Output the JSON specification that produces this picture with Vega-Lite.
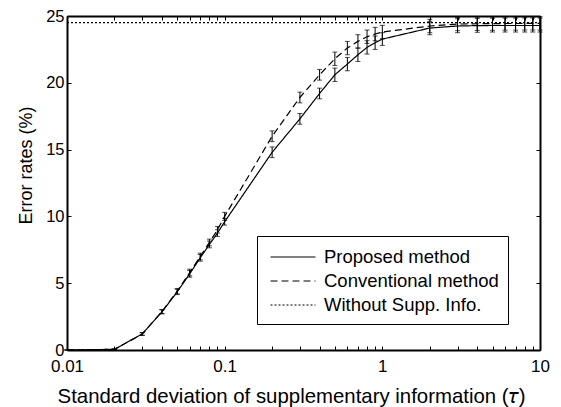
{
  "$schema": "https://vega.github.io/schema/vega-lite/v6.json",
  "width": 473,
  "height": 334,
  "autosize": {"type": "none"},
  "padding": {"left": 67, "top": 16, "right": 21, "bottom": 57},
  "background": "white",
  "config": {
    "view": {"stroke": null},
    "font": "Liberation Sans",
    "axis": {"domainColor": "black", "domainWidth": 2, "tickColor": "black", "tickWidth": 1, "labelColor": "black", "titleColor": "black", "labelFont": "Liberation Sans", "titleFont": "Liberation Sans", "labelFontSize": 17, "titleFontWeight": "normal", "grid": false},
    "legend": {"labelFont": "Liberation Sans", "labelFontSize": 18.5, "labelColor": "black"}
  },
  "datasets": {
    "curves": [
      {"tau": 0.01, "rate": 0, "lo": 0, "hi": 0, "method": "Proposed method"},
      {"tau": 0.02, "rate": 0.05, "lo": 0.02, "hi": 0.08, "method": "Proposed method"},
      {"tau": 0.03, "rate": 1.2, "lo": 1.1, "hi": 1.3, "method": "Proposed method"},
      {"tau": 0.04, "rate": 2.85, "lo": 2.7, "hi": 3.0, "method": "Proposed method"},
      {"tau": 0.05, "rate": 4.35, "lo": 4.15, "hi": 4.55, "method": "Proposed method"},
      {"tau": 0.06, "rate": 5.7, "lo": 5.45, "hi": 5.95, "method": "Proposed method"},
      {"tau": 0.07, "rate": 6.9, "lo": 6.65, "hi": 7.15, "method": "Proposed method"},
      {"tau": 0.08, "rate": 7.9, "lo": 7.65, "hi": 8.15, "method": "Proposed method"},
      {"tau": 0.09, "rate": 8.75, "lo": 8.5, "hi": 9.0, "method": "Proposed method"},
      {"tau": 0.1, "rate": 9.6, "lo": 9.35, "hi": 9.85, "method": "Proposed method"},
      {"tau": 0.2, "rate": 14.8, "lo": 14.4, "hi": 15.2, "method": "Proposed method"},
      {"tau": 0.3, "rate": 17.3, "lo": 16.9, "hi": 17.7, "method": "Proposed method"},
      {"tau": 0.4, "rate": 19.2, "lo": 18.8, "hi": 19.6, "method": "Proposed method"},
      {"tau": 0.5, "rate": 20.6, "lo": 20.1, "hi": 21.1, "method": "Proposed method"},
      {"tau": 0.6, "rate": 21.4, "lo": 20.9, "hi": 21.9, "method": "Proposed method"},
      {"tau": 0.7, "rate": 22.1, "lo": 21.6, "hi": 22.6, "method": "Proposed method"},
      {"tau": 0.8, "rate": 22.65, "lo": 22.15, "hi": 23.15, "method": "Proposed method"},
      {"tau": 0.9, "rate": 23.0, "lo": 22.5, "hi": 23.5, "method": "Proposed method"},
      {"tau": 1, "rate": 23.27, "lo": 22.8, "hi": 23.75, "method": "Proposed method"},
      {"tau": 2, "rate": 24.1, "lo": 23.6, "hi": 24.6, "method": "Proposed method"},
      {"tau": 3, "rate": 24.25, "lo": 23.75, "hi": 24.8, "method": "Proposed method"},
      {"tau": 4, "rate": 24.28, "lo": 23.78, "hi": 24.82, "method": "Proposed method"},
      {"tau": 5, "rate": 24.29, "lo": 23.8, "hi": 24.83, "method": "Proposed method"},
      {"tau": 6, "rate": 24.29, "lo": 23.8, "hi": 24.84, "method": "Proposed method"},
      {"tau": 7, "rate": 24.29, "lo": 23.8, "hi": 24.84, "method": "Proposed method"},
      {"tau": 8, "rate": 24.29, "lo": 23.8, "hi": 24.85, "method": "Proposed method"},
      {"tau": 9, "rate": 24.29, "lo": 23.8, "hi": 24.85, "method": "Proposed method"},
      {"tau": 10, "rate": 24.29, "lo": 23.8, "hi": 24.85, "method": "Proposed method"},
      {"tau": 0.01, "rate": 0, "lo": 0, "hi": 0, "method": "Conventional method"},
      {"tau": 0.02, "rate": 0.05, "lo": 0.02, "hi": 0.08, "method": "Conventional method"},
      {"tau": 0.03, "rate": 1.2, "lo": 1.1, "hi": 1.3, "method": "Conventional method"},
      {"tau": 0.04, "rate": 2.88, "lo": 2.73, "hi": 3.03, "method": "Conventional method"},
      {"tau": 0.05, "rate": 4.4, "lo": 4.2, "hi": 4.6, "method": "Conventional method"},
      {"tau": 0.06, "rate": 5.8, "lo": 5.55, "hi": 6.05, "method": "Conventional method"},
      {"tau": 0.07, "rate": 7.0, "lo": 6.75, "hi": 7.25, "method": "Conventional method"},
      {"tau": 0.08, "rate": 8.05, "lo": 7.8, "hi": 8.3, "method": "Conventional method"},
      {"tau": 0.09, "rate": 9.0, "lo": 8.75, "hi": 9.25, "method": "Conventional method"},
      {"tau": 0.1, "rate": 10.0, "lo": 9.7, "hi": 10.3, "method": "Conventional method"},
      {"tau": 0.2, "rate": 16.0, "lo": 15.6, "hi": 16.4, "method": "Conventional method"},
      {"tau": 0.3, "rate": 18.9, "lo": 18.5, "hi": 19.3, "method": "Conventional method"},
      {"tau": 0.4, "rate": 20.6, "lo": 20.2, "hi": 21.0, "method": "Conventional method"},
      {"tau": 0.5, "rate": 21.8, "lo": 21.3, "hi": 22.3, "method": "Conventional method"},
      {"tau": 0.6, "rate": 22.6, "lo": 22.1, "hi": 23.1, "method": "Conventional method"},
      {"tau": 0.7, "rate": 23.1, "lo": 22.6, "hi": 23.6, "method": "Conventional method"},
      {"tau": 0.8, "rate": 23.45, "lo": 22.95, "hi": 23.95, "method": "Conventional method"},
      {"tau": 0.9, "rate": 23.65, "lo": 23.15, "hi": 24.15, "method": "Conventional method"},
      {"tau": 1, "rate": 23.8, "lo": 23.3, "hi": 24.3, "method": "Conventional method"},
      {"tau": 2, "rate": 24.25, "lo": 23.75, "hi": 24.75, "method": "Conventional method"},
      {"tau": 3, "rate": 24.4, "lo": 23.9, "hi": 24.9, "method": "Conventional method"},
      {"tau": 4, "rate": 24.42, "lo": 23.92, "hi": 24.92, "method": "Conventional method"},
      {"tau": 5, "rate": 24.43, "lo": 23.93, "hi": 24.93, "method": "Conventional method"},
      {"tau": 6, "rate": 24.44, "lo": 23.94, "hi": 24.94, "method": "Conventional method"},
      {"tau": 7, "rate": 24.44, "lo": 23.94, "hi": 24.94, "method": "Conventional method"},
      {"tau": 8, "rate": 24.45, "lo": 23.95, "hi": 24.95, "method": "Conventional method"},
      {"tau": 9, "rate": 24.45, "lo": 23.95, "hi": 24.95, "method": "Conventional method"},
      {"tau": 10, "rate": 24.45, "lo": 23.95, "hi": 24.95, "method": "Conventional method"}
    ],
    "baseline": [
      {"tau": 0.01, "rate": 24.5, "method": "Without Supp.  Info."},
      {"tau": 10, "rate": 24.5, "method": "Without Supp.  Info."}
    ]
  },
  "resolve": {"axis": {"x": "independent", "y": "independent"}},
  "layer": [
    {
      "data": {"name": "baseline"},
      "mark": {"type": "line", "color": "black", "strokeWidth": 1.2},
      "encoding": {
        "x": {"field": "tau", "type": "quantitative", "scale": {"type": "log", "domain": [0.01, 10], "nice": false},
          "axis": {"orient": "bottom", "title": "Standard deviation of supplementary information (𝜏)", "titleFontSize": 20.4, "titleX": 224, "titleY": 52, "titleBaseline": "alphabetic", "values": [0.01,0.02,0.03,0.04,0.05,0.06,0.07,0.08,0.09,0.1,0.2,0.3,0.4,0.5,0.6,0.7,0.8,0.9,1,2,3,4,5,6,7,8,9,10],
            "labelExpr": "datum.value == 0.01 ? '0.01' : datum.value == 0.1 ? '0.1' : datum.value == 1 ? '1' : datum.value == 10 ? '10' : ''",
            "tickSize": -4, "labelPadding": 12, "labelFlush": false, "labelOverlap": false}},
        "y": {"field": "rate", "type": "quantitative", "scale": {"domain": [0, 25], "nice": false},
          "axis": {"orient": "left", "title": "Error rates (%)", "titleFontSize": 18, "titleX": -32, "titleY": 149, "values": [0,5,10,15,20,25], "tickSize": -4, "labelPadding": 7, "labelFontSize": 16.5}},
        "strokeDash": {"field": "method", "type": "nominal",
          "scale": {"domain": ["Proposed method", "Conventional method", "Without Supp.  Info."], "range": [[1, 0], [7, 4], [2, 2]]},
          "legend": {"title": null, "orient": "none", "legendX": 190, "legendY": 220, "symbolType": "M-2,0L2,0", "symbolSize": 506, "symbolStrokeColor": "black", "symbolStrokeWidth": 1.2, "symbolOffset": 15, "strokeColor": "black", "fillColor": "white", "padding": 9, "labelOffset": 19, "rowPadding": 2, "labelLimit": 0, "labelExpr": "datum.label + '       '"}}
      }
    },
    {
      "data": {"name": "curves"},
      "mark": {"type": "line", "color": "black", "strokeWidth": 1.2},
      "encoding": {
        "x": {"field": "tau", "type": "quantitative", "axis": null},
        "y": {"field": "rate", "type": "quantitative", "axis": null},
        "strokeDash": {"field": "method", "type": "nominal"}
      }
    },
    {
      "data": {"name": "curves"},
      "mark": {"type": "rule", "color": "black", "strokeWidth": 1},
      "encoding": {
        "x": {"field": "tau", "type": "quantitative", "axis": null},
        "y": {"field": "lo", "type": "quantitative", "axis": null},
        "y2": {"field": "hi"}
      }
    },
    {
      "data": {"name": "curves"},
      "mark": {"type": "tick", "orient": "horizontal", "color": "black", "size": 5, "thickness": 1},
      "encoding": {
        "x": {"field": "tau", "type": "quantitative", "axis": null},
        "y": {"field": "lo", "type": "quantitative", "axis": null}
      }
    },
    {
      "data": {"name": "curves"},
      "mark": {"type": "tick", "orient": "horizontal", "color": "black", "size": 5, "thickness": 1},
      "encoding": {
        "x": {"field": "tau", "type": "quantitative", "axis": null},
        "y": {"field": "hi", "type": "quantitative", "axis": null}
      }
    },
    {
      "data": {"name": "baseline"},
      "mark": {"type": "point", "opacity": 0},
      "encoding": {
        "x": {"field": "tau", "type": "quantitative",
          "axis": {"orient": "top", "title": null, "labels": false, "values": [0.01,0.02,0.03,0.04,0.05,0.06,0.07,0.08,0.09,0.1,0.2,0.3,0.4,0.5,0.6,0.7,0.8,0.9,1,2,3,4,5,6,7,8,9,10], "tickSize": -4}},
        "y": {"field": "rate", "type": "quantitative",
          "axis": {"orient": "right", "title": null, "labels": false, "values": [0,5,10,15,20,25], "tickSize": -4}}
      }
    }
  ]
}
